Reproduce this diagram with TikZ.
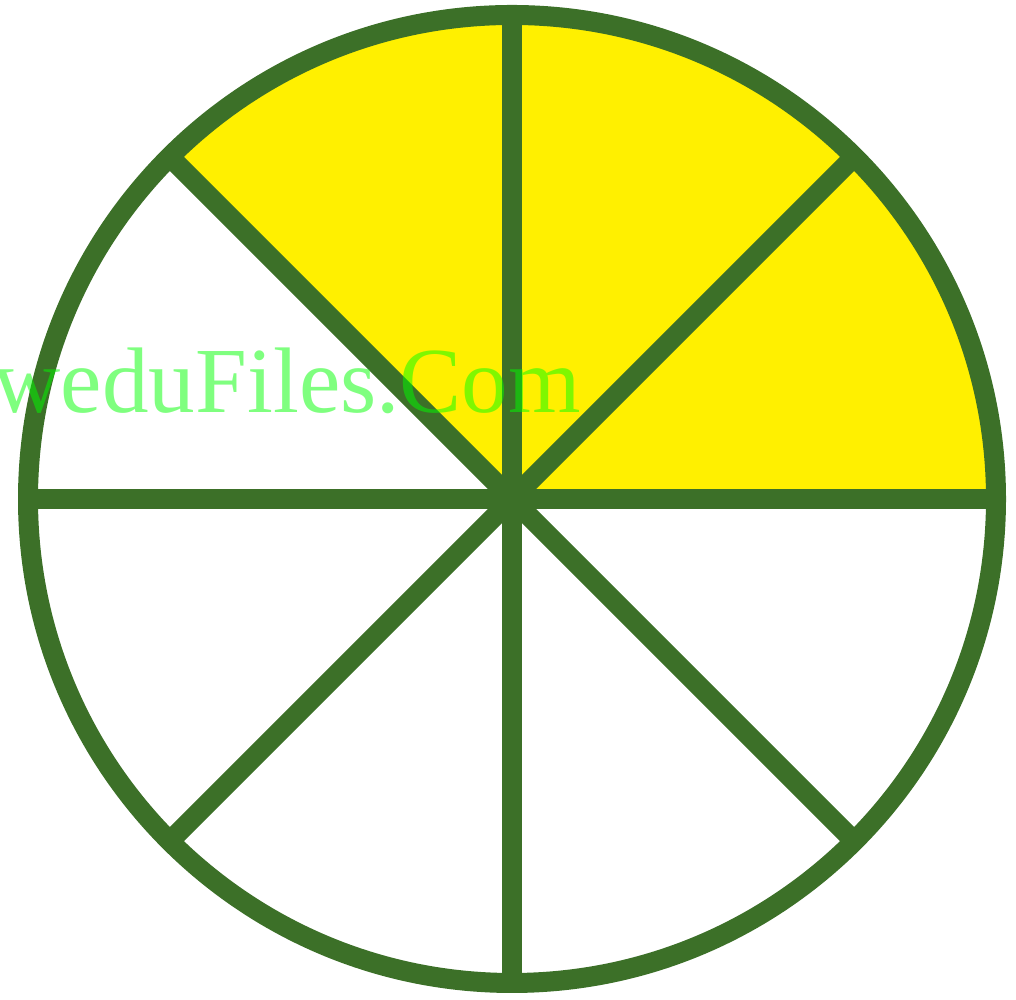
\documentclass[tikz,border=0pt]{standalone}
\usepackage{fontspec}
\setmainfont{Liberation Serif}
\usepackage{xcolor}
\usetikzlibrary{calc,positioning}
\definecolor{RimGreen}{HTML}{3C7028}
\definecolor{PartYellow}{HTML}{FFF000}
\definecolor{MarkGreen}{HTML}{00FF00}

\begin{document}
\begin{tikzpicture}[
      rim/.style={draw=RimGreen,line width=0.2cm},
      spoke/.style={draw=RimGreen,line width=0.2cm},
      part/.style={fill=PartYellow},
      stamp/.style={text=MarkGreen,text opacity=0.5,inner sep=0pt,anchor=base west,font=\fontsize{26.5pt}{31pt}\selectfont}
    ]
      \useasboundingbox (0,0) rectangle (10.16,10);
      \coordinate (ctr) at (5.12,5.01);
      % shaded three eighths
      \fill[part] (ctr) -- ++(0:4.84) arc (0:135:4.84) -- cycle;
      \foreach \a in {0,45,...,315}
        \coordinate (p\a) at ($(ctr)+(\a:4.84)$);
      \foreach \a in {0,45,...,315}
        \draw[spoke] (ctr) -- (p\a);
      \draw[rim] (ctr) circle (4.84);
      \node[stamp] (wm) at (-0.07,5.87) {weduFiles.Com};
    \end{tikzpicture}
\end{document}
